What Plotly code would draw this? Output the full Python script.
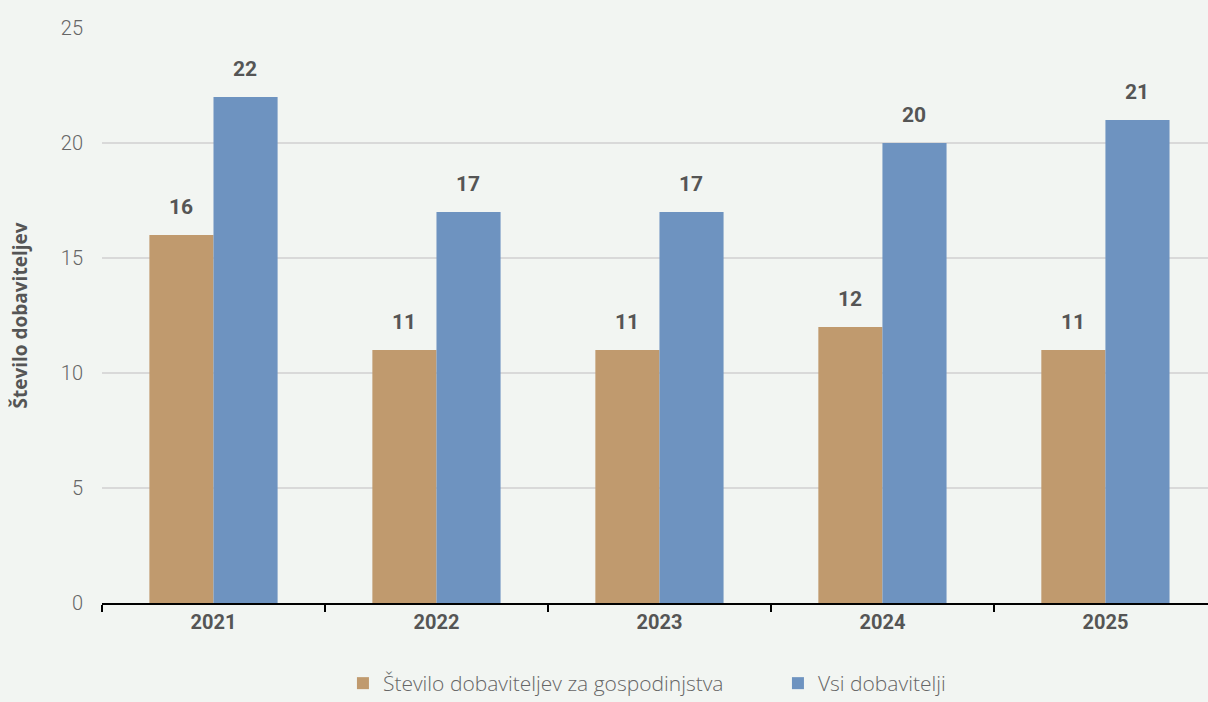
import plotly.graph_objects as go

years = ["2021", "2022", "2023", "2024", "2025"]
gospodinjstva = [16, 11, 11, 12, 11]
vsi = [22, 17, 17, 20, 21]
series_names = ["Število dobaviteljev za gospodinjstva", "Vsi dobavitelji"]
colors = ["#c09a6e", "#6e93c0"]

fig = go.Figure()
for name, vals, col in zip(series_names, [gospodinjstva, vsi], colors):
    fig.add_trace(go.Bar(
        x=years, y=vals, name=name, marker_color=col, marker_line_width=0,
    ))

annotations = []
for vals, shift in zip([gospodinjstva, vsi], [-32, 32]):
    for i, v in enumerate(vals):
        annotations.append(dict(
            x=i, y=v, xref="x", yref="y", text=str(v), showarrow=False,
            xshift=shift, yshift=28,
            font=dict(family="Roboto", size=21, color="#555555", weight="bold"),
        ))

fig.update_layout(
    width=1208, height=702,
    barmode="group", bargap=0.425, bargroupgap=0,
    paper_bgcolor="#f2f5f2", plot_bgcolor="#f2f5f2",
    margin=dict(l=102, r=0, t=28, b=99, autoexpand=False),
    font=dict(family="Roboto", color="#595959"),
    showlegend=True,
    legend=dict(orientation="h", x=0.644, xref="container", xanchor="center",
                y=-0.14, yref="paper", yanchor="middle",
                font=dict(family="Open Sans", size=21, color="#666666", weight=300),
                entrywidth=390, entrywidthmode="pixels",
                itemsizing="constant", traceorder="normal"),
    annotations=annotations,
)
fig.update_xaxes(
    type="category", automargin=False, range=[-0.5, 4.46],
    showline=True, linecolor="#000000", linewidth=2,
    ticks="outside", tickson="boundaries", ticklen=7, tickcolor="#000000", tickwidth=2,
    tickfont=dict(size=20, color="#555555", weight="bold"),
    showgrid=False,
)
fig.update_yaxes(
    range=[0, 25], dtick=5, showgrid=True, gridcolor="#d9d9d9", gridwidth=1.5,
    zeroline=False, showline=False, automargin=False,
    tickfont=dict(size=20, color="#666666", weight=300), ticks="", ticklabelstandoff=18,
    title=dict(text="Število dobaviteljev", font=dict(family="Open Sans", size=19, color="#555555", weight="bold"), standoff=28),
)
fig.write_html("out.html", config={"displayModeBar": False},
               post_script="document.body.style.margin='0';document.body.style.padding='0';document.body.style.overflow='hidden';")
